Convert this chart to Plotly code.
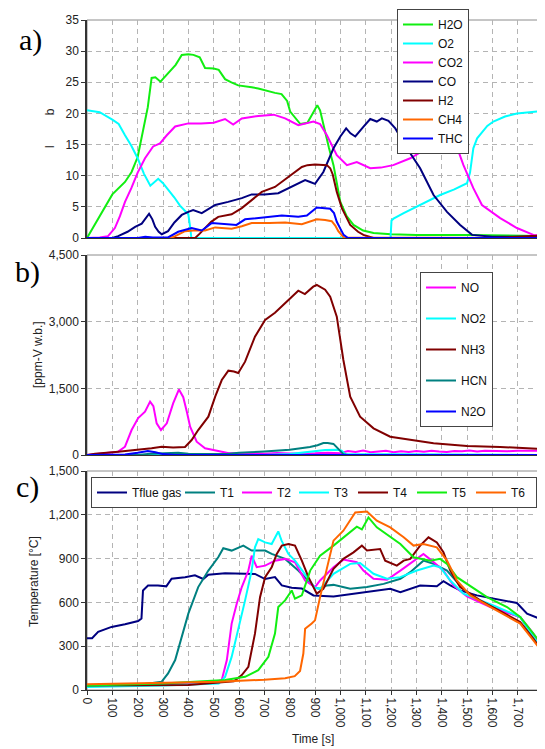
import plotly.graph_objects as go

# ---------------- Panel a) gas composition ----------------
t_h2o = [0, 50, 100, 150, 176, 200, 220, 240, 255, 270, 290, 320, 350, 374, 400, 420, 445, 466, 500, 520, 545, 570, 597, 650, 676, 742, 768, 790, 802, 842, 870, 887, 909, 920, 933, 955, 973, 1000, 1025, 1052, 1090, 1131, 1200, 1300, 1500, 1700, 1800]
h2o = [0, 3.5, 7, 9, 10.6, 13, 17, 21, 25.7, 25.8, 25.1, 26.5, 27.8, 29.4, 29.5, 29.4, 29, 27.3, 27.2, 27, 25.5, 25, 24.5, 24.2, 24, 23.3, 23.1, 22, 20.3, 18.3, 18.5, 19.7, 21.3, 20.5, 18.1, 14.5, 11.7, 5.8, 3.5, 2.1, 1.2, 0.8, 0.6, 0.5, 0.5, 0.4, 0.3]

t_o2 = [0, 50, 100, 125, 150, 175, 200, 225, 250, 265, 281, 300, 320, 345, 367, 385, 400, 408, 412, 600, 1000, 1198, 1202, 1210, 1250, 1302, 1350, 1394, 1450, 1500, 1512, 1525, 1540, 1559, 1580, 1604, 1650, 1697, 1750, 1800]
o2 = [20.5, 20.2, 19.0, 18.3, 16.5, 14.8, 12.8, 10.3, 8.4, 8.9, 9.5, 8.8, 7.8, 6.5, 5.2, 4.4, 3.8, 1.5, 0, 0, 0, 0, 2.8, 3.1, 4.0, 5.0, 6.0, 6.9, 7.8, 8.8, 10.5, 14.4, 16, 17, 18, 18.7, 19.5, 20, 20.2, 20.4]

t_co2 = [0, 50, 83, 110, 130, 150, 175, 200, 229, 261, 288, 315, 348, 400, 450, 500, 545, 577, 611, 676, 737, 782, 834, 870, 894, 920, 947, 986, 1026, 1065, 1118, 1160, 1209, 1276, 1342, 1414, 1447, 1470, 1486, 1525, 1559, 1631, 1697, 1762, 1800]
co2 = [0, 0.1, 0.3, 1.6, 3.5, 5.8, 8, 10.5, 12.8, 14.7, 15.2, 16.5, 17.9, 18.4, 18.4, 18.5, 19.1, 18.2, 19.2, 19.6, 19.8, 19.2, 18.1, 18.4, 18.7, 18.3, 16.5, 13.3, 11.7, 12.2, 11.2, 11.3, 11.7, 12.8, 14.4, 16, 15.3, 13.5, 11.7, 8, 5.3, 3.2, 1.6, 0.5, 0.3]

t_co = [0, 100, 123, 160, 190, 216, 245, 258, 269, 283, 295, 320, 345, 374, 400, 419, 453, 480, 506, 557, 611, 650, 700, 755, 808, 861, 881, 900, 933, 973, 1000, 1023, 1040, 1059, 1090, 1118, 1144, 1164, 1190, 1217, 1263, 1315, 1368, 1421, 1473, 1520, 1600, 1800]
co = [0, 0, 0.3, 1.0, 1.8, 2.3, 3.9, 3.0, 1.8, 1.0, 0.6, 1.1, 2.5, 3.7, 4.2, 4.5, 4.0, 4.7, 5.3, 5.8, 6.4, 7.0, 7.0, 7.2, 8.2, 9.3, 9.0, 8.7, 10.6, 14.4, 16.3, 17.6, 16.8, 16.3, 17.8, 19.1, 18.7, 19.2, 18.8, 17.6, 14.4, 11.2, 6.9, 4.2, 2.1, 0.5, 0.2, 0.2]

t_h2 = [0, 400, 427, 445, 466, 490, 518, 545, 571, 611, 650, 690, 742, 794, 848, 870, 900, 947, 960, 970, 986, 1006, 1039, 1070, 1091, 1131, 1600, 1700, 1800]
h2 = [0, 0, 0, 0.7, 1.6, 2.6, 3.4, 3.6, 3.8, 4.8, 6.1, 7.4, 8.2, 9.8, 11.4, 11.7, 11.8, 11.7, 11.2, 10.2, 7.4, 4.8, 2.1, 1.0, 0.5, 0, 0, 0.2, 0.4]

t_ch4 = [0, 330, 348, 370, 387, 420, 466, 506, 571, 611, 650, 720, 782, 848, 880, 907, 940, 966, 980, 992, 1013, 1800]
ch4 = [0, 0, 0.3, 0.8, 1.1, 1.2, 1.2, 1.7, 1.5, 1.9, 2.4, 2.4, 2.5, 2.2, 2.6, 3.0, 2.9, 2.7, 2.0, 1.1, 0.1, 0]

t_thc = [0, 200, 230, 260, 320, 340, 360, 413, 453, 493, 545, 590, 624, 676, 769, 834, 868, 907, 940, 960, 975, 986, 1000, 1013, 1030, 1800]
thc = [0, 0, 0.2, 0.1, 0.1, 0.5, 1.0, 1.6, 1.2, 2.4, 2.2, 2.1, 3.0, 3.2, 3.6, 3.4, 3.6, 4.9, 4.8, 4.7, 4.0, 2.6, 1.5, 0.5, 0, 0]

# ---------------- Panel b) nitrogen species ----------------
t_no = [0, 100, 123, 150, 176, 202, 229, 249, 262, 275, 292, 315, 340, 363, 380, 395, 407, 433, 466, 518, 560, 600, 650, 700, 750, 800, 850, 900, 950, 1000, 1030, 1060, 1090, 1120, 1150, 1180, 1210, 1240, 1270, 1300, 1330, 1360, 1390, 1420, 1450, 1480, 1510, 1540, 1570, 1600, 1630, 1660, 1700, 1730, 1760, 1800]
no = [0, 60, 75, 187, 562, 830, 975, 1200, 1100, 712, 562, 712, 1162, 1475, 1300, 950, 637, 300, 150, 90, 40, 40, 50, 30, 45, 35, 30, 40, 50, 40, 90, 70, 100, 60, 80, 95, 60, 85, 70, 90, 75, 95, 80, 70, 90, 85, 100, 80, 95, 90, 100, 85, 95, 90, 100, 95]

t_no2 = [0, 700, 800, 850, 900, 940, 990, 1005, 1020, 1800]
no2 = [0, 0, 20, 50, 80, 110, 120, 100, 20, 0]

t_nh3 = [0, 32, 123, 202, 255, 295, 340, 387, 413, 439, 479, 506, 532, 558, 580, 597, 624, 663, 703, 742, 782, 834, 860, 893, 907, 940, 960, 986, 1012, 1039, 1078, 1131, 1197, 1276, 1368, 1500, 1631, 1796, 1800]
nh3 = [0, 30, 75, 112, 150, 187, 170, 180, 337, 562, 862, 1312, 1687, 1897, 1880, 1845, 2100, 2662, 3037, 3200, 3412, 3697, 3620, 3787, 3825, 3720, 3562, 3112, 2137, 1312, 862, 600, 412, 337, 262, 200, 180, 135, 135]

t_hcn = [0, 200, 250, 300, 360, 400, 450, 550, 600, 700, 800, 880, 910, 933, 950, 973, 1000, 1012, 1030, 1800]
hcn = [0, 0, 30, 40, 50, 30, 20, 20, 50, 80, 120, 180, 220, 270, 270, 250, 75, 20, 0, 0]

t_n2o = [0, 150, 200, 240, 270, 300, 350, 1800]
n2o = [0, 10, 50, 90, 60, 20, 0, 0]

# ---------------- Panel c) temperatures ----------------
t_tf = [0, 20, 44, 97, 150, 202, 215, 221, 241, 280, 313, 334, 387, 426, 459, 479, 545, 611, 663, 703, 742, 769, 808, 848, 894, 973, 1105, 1197, 1237, 1315, 1381, 1407, 1434, 1473, 1539, 1604, 1697, 1737, 1796, 1800]
tflue = [355, 355, 398, 432, 450, 472, 490, 682, 716, 716, 710, 762, 773, 785, 760, 790, 799, 799, 795, 760, 773, 716, 700, 695, 648, 641, 670, 693, 670, 716, 710, 745, 716, 682, 648, 625, 596, 523, 482, 480]

t_t1 = [0, 200, 295, 320, 348, 374, 400, 439, 479, 518, 538, 571, 617, 650, 703, 729, 782, 834, 874, 900, 920, 947, 973, 1039, 1105, 1171, 1237, 1276, 1328, 1368, 1421, 1473, 1526, 1604, 1710, 1762, 1800]
temp1 = [27, 35, 57, 114, 205, 364, 523, 705, 818, 909, 971, 955, 989, 955, 955, 932, 898, 818, 750, 700, 693, 716, 720, 693, 705, 727, 762, 807, 886, 864, 818, 716, 625, 568, 500, 364, 260]

t_t2 = [0, 300, 500, 532, 552, 571, 591, 611, 637, 650, 670, 703, 742, 782, 821, 861, 900, 920, 973, 1012, 1065, 1091, 1131, 1184, 1237, 1289, 1328, 1361, 1407, 1447, 1500, 1592, 1710, 1762, 1800]
temp2 = [35, 40, 50, 68, 205, 455, 591, 705, 818, 920, 841, 852, 886, 898, 875, 750, 705, 750, 841, 893, 875, 818, 762, 755, 818, 886, 932, 886, 818, 716, 641, 568, 500, 386, 280]

t_t3 = [0, 300, 520, 545, 571, 597, 624, 650, 663, 676, 703, 729, 755, 768, 795, 821, 861, 900, 920, 973, 1039, 1078, 1131, 1184, 1237, 1302, 1368, 1394, 1434, 1486, 1604, 1710, 1762, 1800]
temp3 = [20, 30, 45, 90, 227, 409, 614, 818, 977, 1034, 1011, 1000, 1086, 1023, 932, 886, 796, 700, 693, 796, 864, 870, 796, 762, 773, 818, 852, 841, 750, 660, 580, 500, 364, 270]

t_t4 = [0, 400, 580, 611, 637, 663, 683, 703, 729, 749, 769, 795, 821, 848, 874, 907, 933, 973, 1012, 1052, 1085, 1105, 1157, 1177, 1223, 1250, 1276, 1315, 1348, 1381, 1407, 1434, 1473, 1552, 1710, 1762, 1800]
temp4 = [30, 35, 60, 102, 159, 386, 636, 773, 841, 932, 989, 1000, 989, 886, 773, 660, 693, 830, 898, 943, 989, 955, 966, 886, 852, 886, 898, 989, 1046, 1011, 943, 818, 705, 614, 466, 352, 260]

t_t5 = [0, 300, 545, 624, 676, 716, 742, 755, 782, 808, 821, 848, 881, 920, 973, 1012, 1065, 1085, 1111, 1144, 1197, 1237, 1289, 1355, 1394, 1421, 1460, 1500, 1579, 1658, 1710, 1762, 1800]
temp5 = [30, 45, 68, 90, 136, 227, 386, 568, 614, 682, 625, 648, 818, 920, 989, 1046, 1119, 1100, 1182, 1114, 1046, 1000, 909, 886, 898, 864, 773, 727, 636, 568, 500, 386, 300]

t_t6 = [0, 300, 518, 700, 782, 820, 841, 854, 861, 887, 900, 920, 947, 973, 1012, 1059, 1105, 1144, 1197, 1250, 1289, 1328, 1381, 1421, 1460, 1513, 1604, 1710, 1762, 1800]
temp6 = [40, 48, 57, 70, 80, 95, 130, 250, 420, 455, 477, 636, 841, 1023, 1091, 1216, 1222, 1160, 1114, 1046, 989, 1000, 977, 886, 750, 648, 557, 455, 340, 255]

GREEN = "#11ee11"
CYAN = "#00ffff"
MAGENTA = "#ff00ff"
NAVY = "#000080"
DRED = "#800000"
ORANGE = "#ff6600"
BLUE = "#0000ff"
TEAL = "#008080"

FONT = "Liberation Sans, Arial, sans-serif"

fig = go.Figure()

def add(x, y, name, color, xa, ya, legend, group=None, lw=None):
    kw = dict(legendgroup=group) if group else {}
    if lw is not None:
        kw["legendwidth"] = lw
    fig.add_trace(go.Scatter(x=x, y=y, name=name, mode="lines",
                             line=dict(color=color, width=2),
                             xaxis=xa, yaxis=ya, legend=legend, **kw))

add(t_h2o, h2o, "H2O", GREEN, "x", "y", "legend")
add(t_o2, o2, "O2", CYAN, "x", "y", "legend")
add(t_co2, co2, "CO2", MAGENTA, "x", "y", "legend")
add(t_co, co, "CO", NAVY, "x", "y", "legend")
add(t_h2, h2, "H2", DRED, "x", "y", "legend")
add(t_ch4, ch4, "CH4", ORANGE, "x", "y", "legend")
add(t_thc, thc, "THC", BLUE, "x", "y", "legend")

add(t_no, no, "NO", MAGENTA, "x2", "y2", "legend2", "b1")
add(t_no2, no2, "NO2", CYAN, "x2", "y2", "legend2", "b2")
add(t_nh3, nh3, "NH3", DRED, "x2", "y2", "legend2", "b3")
add(t_hcn, hcn, "HCN", TEAL, "x2", "y2", "legend2", "b4")
add(t_n2o, n2o, "N2O", BLUE, "x2", "y2", "legend2", "b5")

add(t_tf, tflue, "Tflue gas", NAVY, "x3", "y3", "legend3", lw=43)
add(t_t1, temp1, "T1", TEAL, "x3", "y3", "legend3", lw=12)
add(t_t2, temp2, "T2", MAGENTA, "x3", "y3", "legend3", lw=12)
add(t_t3, temp3, "T3", CYAN, "x3", "y3", "legend3", lw=14)
add(t_t4, temp4, "T4", DRED, "x3", "y3", "legend3", lw=14)
add(t_t5, temp5, "T5", GREEN, "x3", "y3", "legend3", lw=14)
add(t_t6, temp6, "T6", ORANGE, "x3", "y3", "legend3", lw=20)

# The page body has an 8px margin: figure is placed at (8, 8) in the window.
# Target plot area in window pixels: x 87..543; a) 20..238, b) 255..455, c) 471..690
OFF = 8
W, H = 545 - OFF, 749 - OFF
L, R, T, B = 87 - OFF, 2, 20 - OFF, 749 - 690
ph = H - T - B  # 670
PX0, PW = 87, 456

def dom(top_px, bot_px):
    return [(690 - bot_px) / ph, (690 - top_px) / ph]

def px2x(px):
    return (px - PX0) / PW

def py2y(py):
    return (690 - py) / ph

grid = dict(showgrid=True, gridcolor="#b4b4b4", griddash="5px,4px", gridwidth=1)
xcommon = dict(range=[0, 1800], dtick=100, tick0=0, showline=True, linecolor="#333333",
               linewidth=1, zeroline=False, automargin=False, **grid)
ycommon = dict(showline=True, linecolor="#333333", linewidth=1.5, zeroline=False,
               ticks="outside", ticklen=4, tickcolor="#333333", automargin=False,
               tickfont=dict(family=FONT, size=12, color="#222222"), **grid)

fig.update_layout(
    width=W, height=H,
    margin=dict(l=L, r=R, t=T, b=B, autoexpand=False),
    paper_bgcolor="white", plot_bgcolor="white",
    font=dict(family=FONT, size=12, color="#222222"),
    xaxis=dict(domain=[0, 1], anchor="y", showticklabels=False, **xcommon),
    xaxis2=dict(domain=[0, 1], anchor="y2", showticklabels=False, **xcommon),
    xaxis3=dict(domain=[0, 1], anchor="y3", showticklabels=True, tickangle=90,
                tickformat=",d", ticks="outside", ticklen=4, tickcolor="#333333",
                ticklabeloverflow="allow",
                tickfont=dict(family=FONT, size=12, color="#222222"), **xcommon),
    yaxis=dict(domain=dom(20, 238), anchor="x", range=[0, 35], dtick=5, **ycommon),
    yaxis2=dict(domain=dom(255, 455), anchor="x2", range=[0, 4500], dtick=1500,
                tickformat=",d", **ycommon),
    yaxis3=dict(domain=dom(471, 690), anchor="x3", range=[0, 1500], dtick=300,
                tickformat=",d", **ycommon),
    legend=dict(x=px2x(397), y=py2y(9), xanchor="left", yanchor="top",
                bgcolor="white", bordercolor="#444444", borderwidth=1,
                font=dict(family=FONT, size=12, color="#111111"),
                tracegroupgap=0, itemwidth=30),
    legend2=dict(x=px2x(420), y=py2y(272), xanchor="left", yanchor="top",
                 bgcolor="white", bordercolor="#444444", borderwidth=1,
                 font=dict(family=FONT, size=12, color="#111111"),
                 tracegroupgap=12, itemwidth=30),
    legend3=dict(x=px2x(91), y=py2y(477), xanchor="left", yanchor="top",
                 orientation="h", bgcolor="white", bordercolor="#444444", borderwidth=1,
                 font=dict(family=FONT, size=12, color="#111111"), itemwidth=30),
)

# gray frame (top/right)
shapes = []
for xa, ya in (("x", "y"), ("x2", "y2"), ("x3", "y3")):
    shapes.append(dict(type="rect", xref=f"{xa} domain", yref=f"{ya} domain",
                       x0=0, x1=1, y0=0, y1=1, line=dict(color="#8c8c8c", width=1),
                       layer="below"))
fig.update_layout(shapes=shapes)

ann = []
for txt, cx, cy in (("a)", 30, 40), ("b)", 27, 272), ("c)", 27, 487)):
    ann.append(dict(text=txt, x=px2x(cx), y=py2y(cy), xref="paper", yref="paper",
                    showarrow=False, xanchor="center", yanchor="middle",
                    font=dict(family="Liberation Serif, Times New Roman, serif", size=30, color="black")))
ann.append(dict(text="l\u00a0\u00a0\u00a0\u00a0\u00a0\u00a0\u00a0\u00a0\u00a0b", x=px2x(50), y=py2y(128),
                xref="paper", yref="paper", showarrow=False, textangle=-90,
                xanchor="center", yanchor="middle", font=dict(family=FONT, size=12, color="#222222")))
ann.append(dict(text="[ppm-V w.b.]", x=px2x(38), y=py2y(355), xref="paper", yref="paper",
                showarrow=False, textangle=-90, xanchor="center", yanchor="middle",
                font=dict(family=FONT, size=12, color="#222222")))
ann.append(dict(text="Temperature [°C]", x=px2x(34), y=py2y(582), xref="paper", yref="paper",
                showarrow=False, textangle=-90, xanchor="center", yanchor="middle",
                font=dict(family=FONT, size=12, color="#222222")))
ann.append(dict(text="Time [s]", x=px2x(313), y=py2y(739), xref="paper", yref="paper",
                showarrow=False, xanchor="center", yanchor="middle",
                font=dict(family=FONT, size=12, color="#222222")))
fig.update_layout(annotations=ann)

fig.write_html("out.html")
